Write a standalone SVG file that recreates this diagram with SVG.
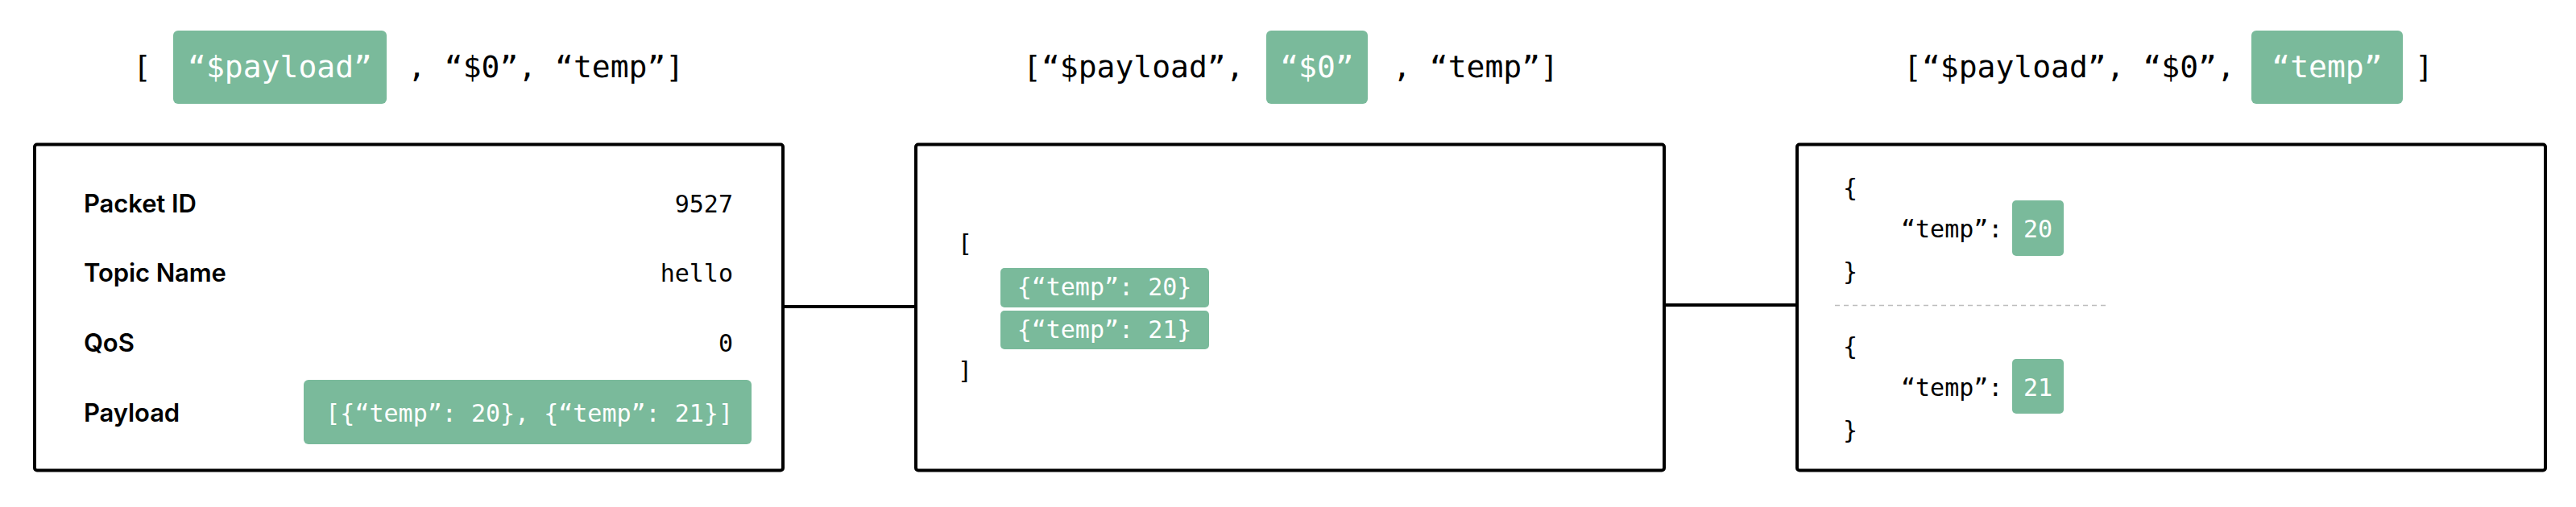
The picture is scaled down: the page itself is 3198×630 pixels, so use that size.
<svg xmlns="http://www.w3.org/2000/svg" width="3198" height="630" viewBox="0 0 3198 630">
<style>
.bg{fill:#ffffff}
.box{fill:#ffffff;stroke:#000000;stroke-width:4}
.hl{fill:#7aba9b}
.m38{font-family:"DejaVu Sans Mono","Liberation Mono",monospace;font-size:38px;fill:#000000}
.m30{font-family:"DejaVu Sans Mono","Liberation Mono",monospace;font-size:30px;fill:#000000}
.w{fill:#ffffff}
.lbl{font-family:Inter,"Liberation Sans",sans-serif;font-weight:600;font-size:31px;fill:#000000;letter-spacing:-0.1px}
.conn{stroke:#000000;stroke-width:4;fill:none}
.sep{stroke:#bdbdbd;stroke-width:1.5;stroke-dasharray:6 5;fill:none}
</style>
<rect class="bg" x="0" y="0" width="3198" height="630"/>

<g id="connectors">
<line class="conn" x1="972" y1="381" x2="1137" y2="381"/>
<line class="conn" x1="2066" y1="379" x2="2231" y2="379"/>
</g>

<g id="header-1">
<text class="m38" x="165" y="96">[</text>
<rect class="hl" x="215" y="38" width="265" height="91" rx="6"/>
<text class="m38 w" x="347.5" y="96" text-anchor="middle">“$payload”</text>
<text class="m38" x="506" y="96" xml:space="preserve">, “$0”, “temp”]</text>
</g>

<g id="header-2">
<text class="m38" x="1270" y="96">[“$payload”,</text>
<rect class="hl" x="1572" y="38" width="126" height="91" rx="6"/>
<text class="m38 w" x="1635" y="96" text-anchor="middle">“$0”</text>
<text class="m38" x="1729" y="96" xml:space="preserve">, “temp”]</text>
</g>

<g id="header-3">
<text class="m38" x="2363" y="96" xml:space="preserve">[“$payload”, “$0”,</text>
<rect class="hl" x="2795" y="38" width="188" height="91" rx="6"/>
<text class="m38 w" x="2889" y="96" text-anchor="middle">“temp”</text>
<text class="m38" x="2998" y="96">]</text>
</g>

<g id="packet">
<rect class="box" x="43" y="179.5" width="929" height="405" rx="3"/>
<text class="lbl" x="104" y="264">Packet ID</text>
<text class="m30" x="910" y="264" text-anchor="end">9527</text>
<text class="lbl" x="104" y="350">Topic Name</text>
<text class="m30" x="910" y="350" text-anchor="end">hello</text>
<text class="lbl" x="104" y="437">QoS</text>
<text class="m30" x="910" y="437" text-anchor="end">0</text>
<text class="lbl" x="104" y="524">Payload</text>
<rect class="hl" x="377" y="472" width="556" height="80" rx="6"/>
<text class="m30 w" x="910" y="524" text-anchor="end">[{“temp”: 20}, {“temp”: 21}]</text>
</g>

<g id="array">
<rect class="box" x="1137" y="179.5" width="929" height="405" rx="3"/>
<text class="m30" x="1189" y="313">[</text>
<rect class="hl" x="1242" y="333" width="259" height="49" rx="5"/>
<text class="m30 w" x="1371" y="367" text-anchor="middle">{“temp”: 20}</text>
<rect class="hl" x="1242" y="386" width="259" height="48" rx="5"/>
<text class="m30 w" x="1371" y="420" text-anchor="middle">{“temp”: 21}</text>
<text class="m30" x="1189" y="471">]</text>
</g>

<g id="objects">
<rect class="box" x="2231" y="179.5" width="929" height="405" rx="3"/>
<text class="m30" x="2288" y="244">{</text>
<text class="m30" x="2360" y="295">“temp”:</text>
<rect class="hl" x="2498" y="249" width="64" height="69" rx="5"/>
<text class="m30 w" x="2530" y="295" text-anchor="middle">20</text>
<text class="m30" x="2288" y="348">}</text>
<line class="sep" x1="2278" y1="379.5" x2="2615" y2="379.5"/>
<text class="m30" x="2288" y="441">{</text>
<text class="m30" x="2360" y="492">“temp”:</text>
<rect class="hl" x="2498" y="446" width="64" height="68" rx="5"/>
<text class="m30 w" x="2530" y="492" text-anchor="middle">21</text>
<text class="m30" x="2288" y="545">}</text>
</g>
</svg>
